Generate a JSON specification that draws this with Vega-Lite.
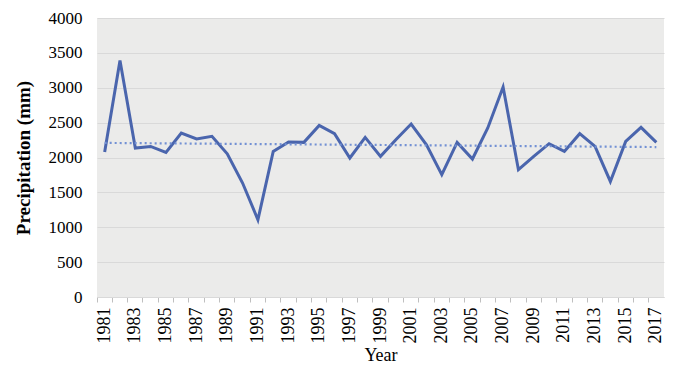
{
  "$schema": "https://vega.github.io/schema/vega-lite/v6.json",
  "width": 567,
  "height": 279,
  "autosize": "none",
  "padding": {"left": 97, "top": 18, "right": 9, "bottom": 92},
  "background": "white",
  "config": {
    "font": "Liberation Serif",
    "view": {"fill": "#ebebea", "stroke": null},
    "axis": {"labelFont": "Liberation Serif", "titleFont": "Liberation Serif", "labelColor": "#000", "titleColor": "#000"}
  },
  "data": {
    "values": [
      {"year": 1981, "precip": 2079}, {"year": 1982, "precip": 3392}, {"year": 1983, "precip": 2136},
      {"year": 1984, "precip": 2159}, {"year": 1985, "precip": 2073}, {"year": 1986, "precip": 2351},
      {"year": 1987, "precip": 2265}, {"year": 1988, "precip": 2303}, {"year": 1989, "precip": 2054},
      {"year": 1990, "precip": 1634}, {"year": 1991, "precip": 1108}, {"year": 1992, "precip": 2088},
      {"year": 1993, "precip": 2222}, {"year": 1994, "precip": 2217}, {"year": 1995, "precip": 2460},
      {"year": 1996, "precip": 2341}, {"year": 1997, "precip": 1993}, {"year": 1998, "precip": 2288},
      {"year": 1999, "precip": 2016}, {"year": 2000, "precip": 2255}, {"year": 2001, "precip": 2480},
      {"year": 2002, "precip": 2183}, {"year": 2003, "precip": 1753}, {"year": 2004, "precip": 2217},
      {"year": 2005, "precip": 1978}, {"year": 2006, "precip": 2423}, {"year": 2007, "precip": 3011},
      {"year": 2008, "precip": 1825}, {"year": 2009, "precip": 2016}, {"year": 2010, "precip": 2198},
      {"year": 2011, "precip": 2088}, {"year": 2012, "precip": 2341}, {"year": 2013, "precip": 2159},
      {"year": 2014, "precip": 1657}, {"year": 2015, "precip": 2231}, {"year": 2016, "precip": 2432},
      {"year": 2017, "precip": 2217}
    ]
  },
  "encoding": {
    "x": {
      "field": "year",
      "type": "ordinal",
      "scale": {"type": "band", "paddingInner": 0, "paddingOuter": 0},
      "axis": {
        "title": "Year",
        "titleFontSize": 18,
        "titleFontWeight": "normal",
        "titlePadding": 3,
        "labelAngle": -90,
        "labelFontSize": 18,
        "labelPadding": 5,
        "labelExpr": "datum.value % 2 == 1 ? datum.label : ''",
        "bandPosition": 0,
        "tickColor": "#bfbfbf",
        "tickSize": 5,
        "domainColor": "#d9d9d9",
        "grid": false
      }
    },
    "y": {
      "field": "precip",
      "type": "quantitative",
      "scale": {"domain": [0, 4000], "nice": false},
      "axis": {
        "title": "Precipitation (mm)",
        "titleFontSize": 19,
        "titleFontWeight": "bold",
        "titlePadding": 15,
        "values": [0, 500, 1000, 1500, 2000, 2500, 3000, 3500, 4000],
        "format": "d",
        "labelFontSize": 17,
        "labelPadding": 15,
        "ticks": false,
        "domain": false,
        "gridColor": "#d9d9d9",
        "gridWidth": 1
      }
    }
  },
  "layer": [
    {
      "mark": {"type": "line", "color": "#4a65ad", "strokeWidth": 3, "strokeJoin": "miter"}
    },
    {
      "transform": [{"regression": "precip", "on": "year"}],
      "mark": {"type": "line", "color": "#7391d4", "strokeWidth": 2.2, "strokeDash": [2, 3]}
    }
  ]
}
